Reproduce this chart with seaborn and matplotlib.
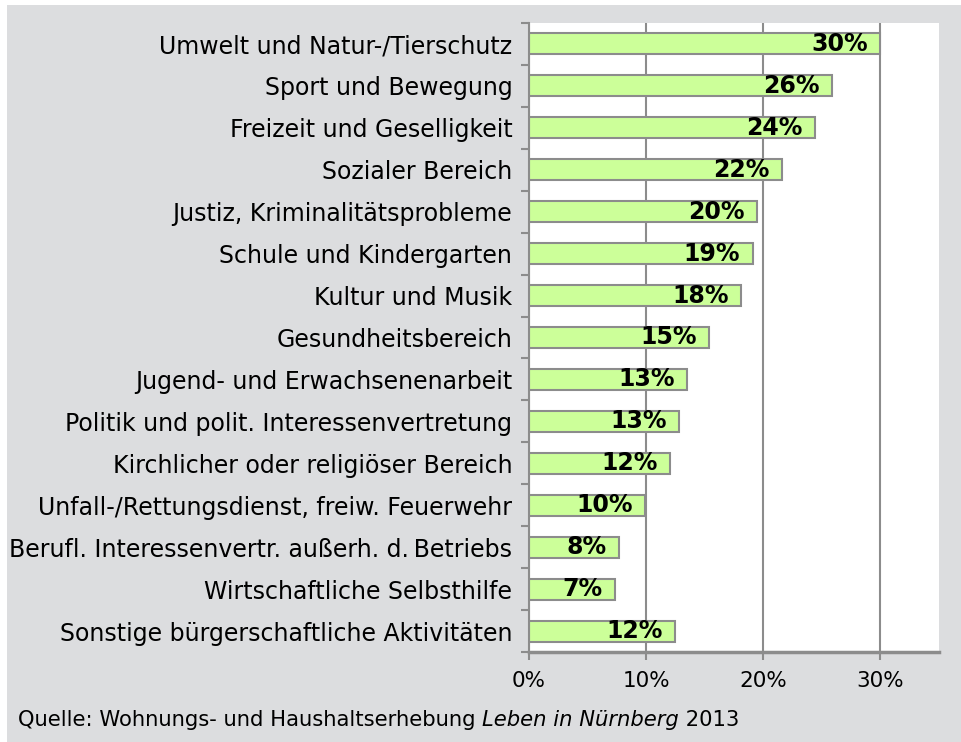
import matplotlib
matplotlib.use("Agg")
import matplotlib.pyplot as plt
import seaborn as sns
import pandas as pd
from matplotlib.patches import Rectangle

kategorien = [
    "Umwelt und Natur-/Tierschutz",
    "Sport und Bewegung",
    "Freizeit und Geselligkeit",
    "Sozialer Bereich",
    "Justiz, Kriminalitätsprobleme",
    "Schule und Kindergarten",
    "Kultur und Musik",
    "Gesundheitsbereich",
    "Jugend- und Erwachsenenarbeit",
    "Politik und polit. Interessenvertretung",
    "Kirchlicher oder religiöser Bereich",
    "Unfall-/Rettungsdienst, freiw. Feuerwehr",
    "Berufl. Interessenvertr. außerh. d.\u2009Betriebs",
    "Wirtschaftliche Selbsthilfe",
    "Sonstige bürgerschaftliche Aktivitäten",
]
werte = [30.0, 25.9, 24.4, 21.6, 19.5, 19.1, 18.1, 15.4, 13.5, 12.8, 12.05, 9.9, 7.7, 7.35, 12.5]
beschriftung = ["30%", "26%", "24%", "22%", "20%", "19%", "18%", "15%", "13%", "13%",
                "12%", "10%", "8%", "7%", "12%"]
x_ticks = [0, 10, 20, 30]

df = pd.DataFrame({"Kategorie": kategorien, "Anteil": werte})

sns.set_theme(style="white")
plt.rcParams['font.family'] = ['DejaVu Sans']

grau = "#dcdddf"
linie = "#8c8c8c"

fig = plt.figure(figsize=(9.62, 7.42), dpi=100)
fig.patch.set_facecolor("white")
fig.patches.append(Rectangle((7 / 962, 0), 1, 1 - 5 / 742, transform=fig.transFigure,
                             facecolor=grau, edgecolor="none", zorder=-10))

ax = fig.add_axes([529 / 962, 1 - 652 / 742, 410 / 962, 629 / 742])
ax.set_facecolor("white")
ax.set_axisbelow(True)

sns.barplot(data=df, y="Kategorie", x="Anteil", orient="h", color="#ccff99",
            edgecolor=linie, linewidth=1.5, width=0.5, saturation=1, ax=ax)

for i, (w, t) in enumerate(zip(werte, beschriftung)):
    ax.annotate(t, (w, i), xytext=(-9, 0), textcoords="offset points",
                ha="right", va="center", fontsize=17, fontweight="bold", color="black")

ax.set_xlim(0, 35)
ax.set_ylim(len(kategorien) - 0.5, -0.5)
ax.set_xticks(x_ticks)
ax.set_xticklabels([f"{v}%" for v in x_ticks])
ax.xaxis.grid(True, color=linie, linewidth=1.5)
ax.set_xlabel("")
ax.set_ylabel("")
ax.tick_params(axis="y", length=0, labelsize=17, pad=12, labelcolor="black")
ax.set_yticks([i + 0.5 for i in range(-1, len(kategorien))], minor=True)
ax.tick_params(axis="y", which="minor", length=6, color=linie, width=1.5, left=True)
ax.tick_params(axis="x", length=6, color=linie, width=1.5, bottom=True, labelsize=15.5,
               pad=8, labelcolor="black")

for s in ["top", "right"]:
    ax.spines[s].set_visible(False)
ax.spines["left"].set_color(linie)
ax.spines["left"].set_linewidth(1.5)
ax.spines["bottom"].set_color(linie)
ax.spines["bottom"].set_linewidth(2.5)

# Quellenangabe mit kursivem Titel
fig.canvas.draw()
renderer = fig.canvas.get_renderer()
x = 18 / 962
y = 1 - 726 / 742
teile = [("Quelle: Wohnungs- und Haushaltserhebung ", "normal"),
         ("Leben in Nürnberg", "italic"),
         (" 2013", "normal")]
for txt, stil in teile:
    t = fig.text(x, y, txt, fontsize=15.2, style=stil, color="black", va="baseline")
    bb = t.get_window_extent(renderer=renderer)
    x += bb.width / fig.bbox.width

fig.savefig("out.png", dpi=100, facecolor=fig.get_facecolor())
